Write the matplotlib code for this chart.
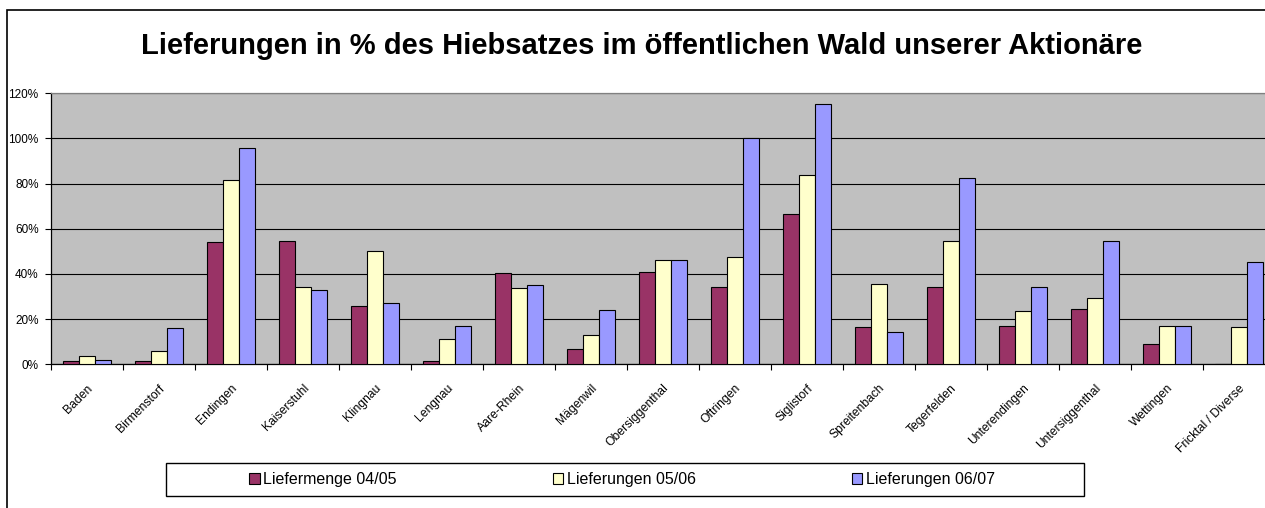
import matplotlib
matplotlib.use("Agg")
import matplotlib.pyplot as plt
from matplotlib.patches import Rectangle
from matplotlib.transforms import ScaledTranslation
import numpy as np

plt.rcParams['font.family'] = ['Liberation Sans', 'DejaVu Sans']

categories = ["Baden", "Birmenstorf", "Endingen", "Kaiserstuhl", "Klingnau", "Lengnau",
              "Aare-Rhein", "Mägenwil", "Obersiggenthal", "Oftringen", "Siglistorf",
              "Spreitenbach", "Tegerfelden", "Unterendingen", "Untersiggenthal",
              "Wettingen", "Fricktal / Diverse"]
liefermenge_0405 = [1.5, 1.3, 54.0, 54.6, 26.0, 1.5, 40.3, 6.9, 40.9, 34.1, 66.4,
                    16.4, 34.4, 16.8, 24.5, 9.1, 0.0]
lieferungen_0506 = [3.5, 5.7, 81.5, 34.4, 50.0, 11.2, 33.6, 13.0, 46.2, 47.4, 84.0,
                    35.6, 54.5, 23.5, 29.5, 16.8, 16.4]
lieferungen_0607 = [1.9, 16.0, 95.7, 32.8, 27.1, 17.1, 35.3, 23.9, 46.2, 100.2, 115.1,
                    14.4, 82.6, 34.4, 54.6, 16.8, 45.2]
series_names = ["Liefermenge 04/05", "Lieferungen 05/06", "Lieferungen 06/07"]
y_ticks = [0, 20, 40, 60, 80, 100, 120]
title = "Lieferungen in % des Hiebsatzes im öffentlichen Wald unserer Aktionäre"

colors = ["#993366", "#FFFFCC", "#9999FF"]

W, H = 1265, 508
fig = plt.figure(figsize=(W / 100, H / 100), dpi=100)

# outer chart frame
fig.patches.append(Rectangle((7.5 / W, -0.05), 1.2, 1 - 10 / H + 0.05,
                             transform=fig.transFigure, fill=False,
                             edgecolor="black", linewidth=1.2, zorder=0))

left, right = 51, 1274.7
top, bottom = 93.3, 364.3
ax = fig.add_axes([left / W, 1 - bottom / H, (right - left) / W, (bottom - top) / H])
ax.set_facecolor("#C0C0C0")

x = np.arange(len(categories))
bw = 0.2222
data = [liefermenge_0405, lieferungen_0506, lieferungen_0607]
for k, (vals, c, name) in enumerate(zip(data, colors, series_names)):
    ax.bar(x + (k - 1) * bw, vals, width=bw, color=c, edgecolor="black",
           linewidth=0.8, label=name, zorder=3)

ax.set_xlim(-0.5, len(categories) - 0.5)
ax.set_ylim(0, 120)
ax.set_yticks(y_ticks)
ax.set_yticklabels([f"{v}%" for v in y_ticks], fontsize=8.5)
ax.yaxis.grid(True, color="black", linewidth=0.8, zorder=1)
ax.set_axisbelow(True)

ax.set_xticks(np.arange(len(categories) + 1) - 0.5)
ax.set_xticklabels([])
ax.set_xticks(x, minor=True)
ax.set_xticklabels(categories, minor=True, rotation=45, ha="right", va="top",
                   rotation_mode="anchor", fontsize=8.7)
offset = ScaledTranslation(-5 / 100, 0, fig.dpi_scale_trans)
for lbl in ax.get_xticklabels(minor=True):
    lbl.set_transform(lbl.get_transform() + offset)
ax.tick_params(axis="x", which="minor", length=0, pad=13)
ax.tick_params(axis="x", which="major", length=4, width=0.8, direction="out")
ax.tick_params(axis="y", length=4, width=0.8, direction="out", pad=5)

for s in ["left", "bottom"]:
    ax.spines[s].set_color("black")
    ax.spines[s].set_linewidth(0.9)
ax.spines["top"].set_color("#808080")
ax.spines["top"].set_linewidth(0.9)
ax.spines["right"].set_visible(False)

fig.text(642 / W, 1 - 46 / H, title, ha="center", va="center",
         fontsize=21, fontweight="bold")

# legend
lx0, lx1, ly0, ly1 = 165.7, 1084, 463, 496
fig.patches.append(Rectangle((lx0 / W, 1 - ly1 / H), (lx1 - lx0) / W, (ly1 - ly0) / H,
                             transform=fig.transFigure, facecolor="white",
                             edgecolor="black", linewidth=1.0, zorder=1))
handles, labels = ax.get_legend_handles_labels()
leg = fig.legend(handles, labels, loc="center", bbox_to_anchor=(622 / W, 1 - 479.5 / H),
                 ncol=3, frameon=False, fontsize=11.5, handlelength=0.65,
                 handleheight=0.65, handletextpad=0.2, columnspacing=9.8)

fig.savefig("out.png", dpi=100, facecolor="white")
